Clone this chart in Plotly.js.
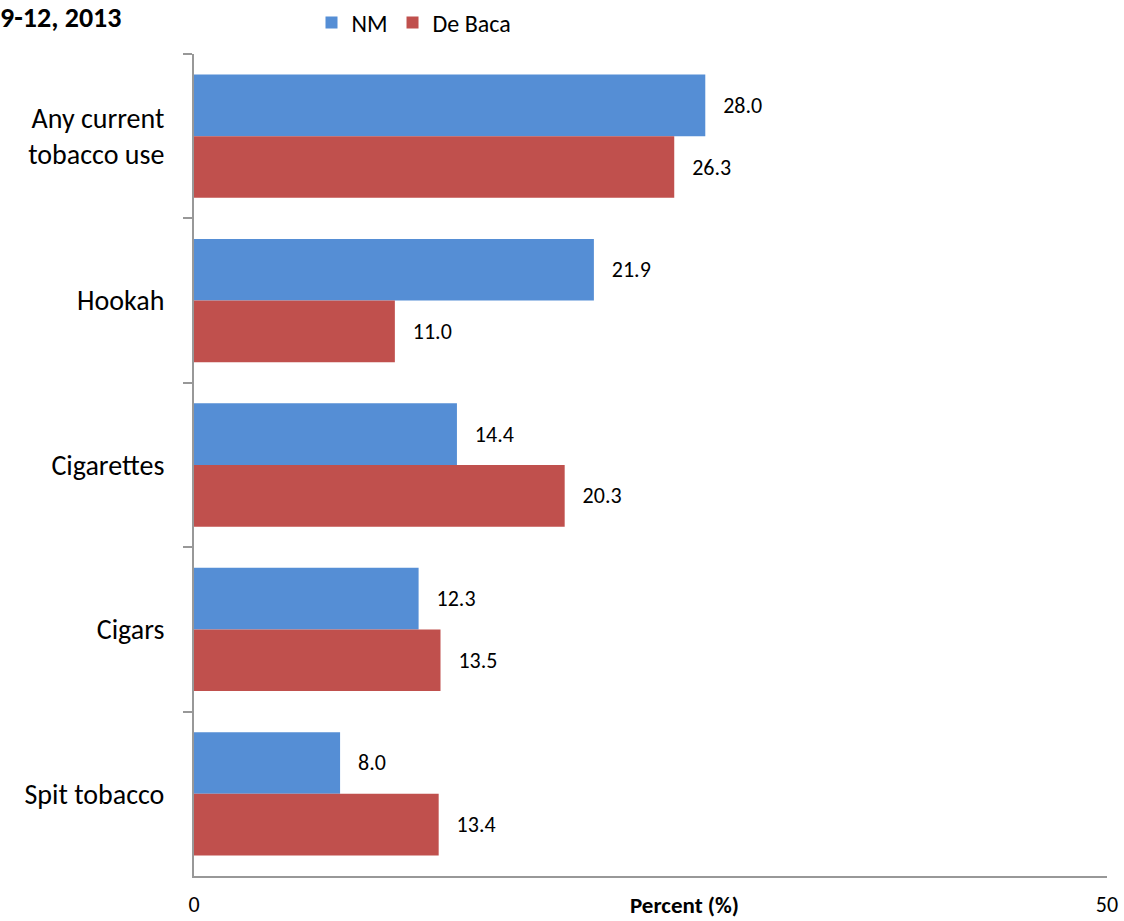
<!DOCTYPE html>
<html>
<head>
<meta charset="utf-8">
<script src="https://cdn.plot.ly/plotly-3.0.1.min.js"></script>
<style>html,body{margin:0;padding:0;background:#fff;}#chart{width:1124px;height:921px;}</style>
</head>
<body>
<div id="chart"></div>
<script>
const categories = ["Any current<br>tobacco use", "Hookah", "Cigarettes", "Cigars", "Spit tobacco"];
const nmValues = [28.0, 21.9, 14.4, 12.3, 8.0];
const deBacaValues = [26.3, 11.0, 20.3, 13.5, 13.4];
const xTickValues = [0, 50];
const xTickLabels = ["0", "50"];

const FONT = "Carlito, Lato, 'Open Sans', sans-serif";
const pad = "\u00a0\u00a0\u00a0";

const traces = [
  {type: "bar", orientation: "h", name: "NM", y: categories, x: nmValues,
   marker: {color: "#558ED5"}, text: nmValues.map(v => pad + v.toFixed(1)),
   textposition: "outside", textfont: {size: 22, color: "#000", family: FONT}, cliponaxis: false},
  {type: "bar", orientation: "h", name: "De Baca", y: categories, x: deBacaValues,
   marker: {color: "#C0504D"}, text: deBacaValues.map(v => pad + v.toFixed(1)),
   textposition: "outside", textfont: {size: 22, color: "#000", family: FONT}, cliponaxis: false}
];

const layout = {
  width: 1124, height: 921,
  margin: {l: 194, r: 17, t: 54, b: 45, autoexpand: false},
  paper_bgcolor: "#fff", plot_bgcolor: "#fff",
  font: {family: FONT, color: "#000"},
  barmode: "group", bargap: 0.25, bargroupgap: 0,
  title: {text: "<b>9-12, 2013</b>", x: 0, xref: "container", xanchor: "left",
          y: 1 - 17/921, yref: "container", yanchor: "middle",
          font: {size: 28, family: FONT}, pad: {l: 0, t: 0, b: 0, r: 0}},
  showlegend: true,
  legend: {orientation: "h", x: 414/1124, xref: "container", xanchor: "center",
           y: 1 - 23/921, yref: "container", yanchor: "middle",
           font: {size: 24, family: FONT}, itemwidth: 30, traceorder: "normal"},
  xaxis: {range: [0, 50], tickvals: xTickValues, ticktext: xTickLabels,
          showgrid: false, zeroline: false, showline: true, linecolor: "#989898", linewidth: 2,
          ticks: "inside", ticklen: 8, tickcolor: "#989898", tickwidth: 1.5,
          tickfont: {size: 22, family: FONT}, ticklabelstandoff: 8},
  yaxis: {autorange: "reversed", showgrid: false, zeroline: false, showline: true,
          linecolor: "#989898", linewidth: 2, ticks: "outside", tickson: "boundaries",
          ticklen: 9, tickcolor: "#989898", tickwidth: 1.5,
          tickfont: {size: 28, family: FONT}, ticklabelstandoff: 22},
  annotations: [
    {text: "<b>Percent (%)</b>", xref: "paper", yref: "paper", x: (684-194)/913, y: 0, yshift: -29,
     xanchor: "center", yanchor: "middle", showarrow: false, font: {size: 23, family: FONT}}
  ]
};

Plotly.newPlot("chart", traces, layout, {displayModeBar: false});
</script>
</body>
</html>
